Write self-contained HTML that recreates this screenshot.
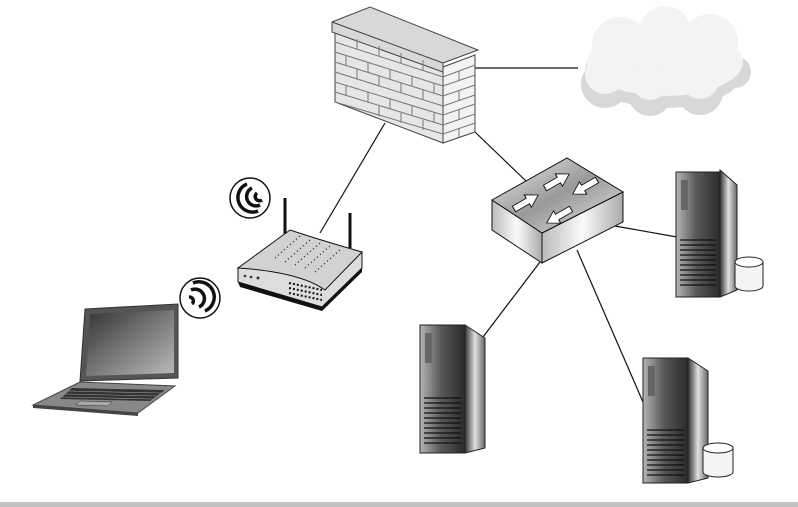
<!DOCTYPE html>
<html><head><meta charset="utf-8"><style>html,body{margin:0;padding:0;background:#fff}svg{display:block}</style></head>
<body>
<svg width="798" height="507" viewBox="0 0 798 507" xmlns="http://www.w3.org/2000/svg">
<defs>
<linearGradient id="srv" x1="0" x2="1"><stop offset="0" stop-color="#b5b5b5"/><stop offset="0.45" stop-color="#5a5a5a"/><stop offset="1" stop-color="#2a2a2a"/></linearGradient>
<linearGradient id="srvs" x1="0" x2="1"><stop offset="0" stop-color="#333"/><stop offset="0.5" stop-color="#e0e0e0"/><stop offset="1" stop-color="#666"/></linearGradient>
<linearGradient id="scr" x1="0" y1="0" x2="1" y2="1"><stop offset="0" stop-color="#333"/><stop offset="1" stop-color="#bbb"/></linearGradient>
<linearGradient id="sw" x1="0" y1="0" x2="1" y2="1"><stop offset="0" stop-color="#eee"/><stop offset="0.5" stop-color="#999"/><stop offset="1" stop-color="#e5e5e5"/></linearGradient>
<linearGradient id="sws" x1="0" x2="1"><stop offset="0" stop-color="#bbb"/><stop offset="0.5" stop-color="#fafafa"/><stop offset="1" stop-color="#aaa"/></linearGradient>
</defs>
<g stroke="#111" stroke-width="1.2" fill="none">
<line x1="475" y1="68" x2="578" y2="68"/>
<line x1="385" y1="123" x2="320" y2="233"/>
<line x1="475" y1="132" x2="526" y2="181"/>
<line x1="615" y1="226" x2="677" y2="237"/>
<line x1="540" y1="262" x2="483" y2="337"/>
<line x1="577" y1="250" x2="643" y2="402"/>
</g>
<!-- cloud -->
<g fill="#d8d8d8">
<ellipse cx="665" cy="70" rx="80" ry="38"/>
<circle cx="605" cy="84" r="24"/><circle cx="650" cy="94" r="22"/><circle cx="700" cy="92" r="23"/><circle cx="735" cy="72" r="16"/>
</g>
<g fill="#f3f3f3">
<ellipse cx="665" cy="62" rx="78" ry="34"/>
<circle cx="620" cy="45" r="28"/><circle cx="665" cy="32" r="26"/><circle cx="710" cy="42" r="28"/>
<circle cx="605" cy="74" r="20"/><circle cx="650" cy="82" r="18"/><circle cx="700" cy="80" r="19"/>
</g>
<!-- firewall -->
<polygon points="335,32 443,67 443,143 335,102" fill="#e6e6e6" stroke="#444"/>
<polygon points="443,67 475,55 475,132 443,143" fill="#f3f3f3" stroke="#444"/>
<polygon points="332,22 370,7 478,50 443,63 443,72 332,32" fill="#d8d8d8" stroke="#444"/>
<line x1="332" y1="22" x2="443" y2="63" stroke="#444"/>
<g stroke="#777" stroke-width="1">
<line x1="335" y1="42" x2="443" y2="77"/><line x1="335" y1="52" x2="443" y2="86"/><line x1="335" y1="62" x2="443" y2="96"/><line x1="335" y1="72" x2="443" y2="106"/><line x1="335" y1="82" x2="443" y2="115"/><line x1="335" y1="92" x2="443" y2="125"/><line x1="335" y1="102" x2="443" y2="134"/>
<line x1="443" y1="77" x2="475" y2="65"/><line x1="443" y1="86" x2="475" y2="75"/><line x1="443" y1="96" x2="475" y2="85"/><line x1="443" y1="106" x2="475" y2="95"/><line x1="443" y1="115" x2="475" y2="104"/><line x1="443" y1="125" x2="475" y2="114"/><line x1="443" y1="134" x2="475" y2="123"/>
<line x1="357" y1="39" x2="357" y2="49"/><line x1="379" y1="46" x2="379" y2="56"/><line x1="401" y1="53" x2="401" y2="63"/><line x1="423" y1="60" x2="423" y2="70"/>
<line x1="346" y1="55" x2="346" y2="65"/><line x1="368" y1="62" x2="368" y2="72"/><line x1="390" y1="69" x2="390" y2="79"/><line x1="412" y1="76" x2="412" y2="86"/><line x1="434" y1="83" x2="434" y2="93"/>
<line x1="357" y1="69" x2="357" y2="79"/><line x1="379" y1="76" x2="379" y2="86"/><line x1="401" y1="83" x2="401" y2="93"/><line x1="423" y1="90" x2="423" y2="100"/>
<line x1="346" y1="85" x2="346" y2="95"/><line x1="368" y1="92" x2="368" y2="102"/><line x1="390" y1="99" x2="390" y2="109"/><line x1="412" y1="106" x2="412" y2="116"/><line x1="434" y1="113" x2="434" y2="123"/>
<line x1="379" y1="106" x2="379" y2="116"/><line x1="401" y1="113" x2="401" y2="123"/><line x1="423" y1="120" x2="423" y2="130"/>
<line x1="459" y1="71" x2="459" y2="81"/><line x1="459" y1="90" x2="459" y2="100"/><line x1="459" y1="109" x2="459" y2="119"/><line x1="459" y1="128" x2="459" y2="137"/>
</g>
<!-- switch -->
<polygon points="492,200 542,233 542,263 492,230" fill="url(#sws)" stroke="#111"/>
<polygon points="542,233 623,192 623,222 542,263" fill="url(#sws)" stroke="#111"/>
<polygon points="492,200 567,158 623,192 542,233" fill="url(#sw)" stroke="#111"/>
<g fill="#fff" stroke="#111" stroke-width="1">
<polygon transform="translate(545,188) rotate(-30) scale(1,0.8)" points="0,-4 16,-4 16,-9 28,0 16,9 16,4 0,4"/>
<polygon transform="translate(514,209) rotate(-30) scale(1,0.8)" points="0,-4 16,-4 16,-9 28,0 16,9 16,4 0,4"/>
<polygon transform="translate(597,180) rotate(150) scale(1,0.8)" points="0,-4 16,-4 16,-9 28,0 16,9 16,4 0,4"/>
<polygon transform="translate(571,209) rotate(150) scale(1,0.8)" points="0,-4 16,-4 16,-9 28,0 16,9 16,4 0,4"/>
</g>
<!-- servers -->
<g>
<polygon points="720,170 737,185 737,290 720,297" fill="url(#srvs)" stroke="#222"/>
<rect x="676" y="172" width="44" height="125" fill="url(#srv)" stroke="#222"/>
<rect x="681" y="180" width="7" height="30" fill="#666"/>
<g stroke="#111" stroke-width="1.2"><line x1="680" y1="240" x2="716" y2="240"/><line x1="680" y1="245" x2="716" y2="245"/><line x1="680" y1="250" x2="716" y2="250"/><line x1="680" y1="255" x2="716" y2="255"/><line x1="680" y1="260" x2="716" y2="260"/><line x1="680" y1="265" x2="716" y2="265"/><line x1="680" y1="270" x2="716" y2="270"/><line x1="680" y1="275" x2="716" y2="275"/><line x1="680" y1="280" x2="716" y2="280"/><line x1="680" y1="285" x2="716" y2="285"/></g>
<path d="M735 262 v24 a14 5 0 0 0 28 0 v-24" fill="#f4f4f4" stroke="#222"/>
<ellipse cx="749" cy="262" rx="14" ry="5" fill="#fff" stroke="#222"/>
</g>
<g>
<polygon points="465,325 485,338 485,448 465,453" fill="url(#srvs)" stroke="#222"/>
<rect x="420" y="325" width="45" height="128" fill="url(#srv)" stroke="#222"/>
<rect x="425" y="333" width="7" height="30" fill="#666"/>
<g stroke="#111" stroke-width="1.2"><line x1="424" y1="398" x2="461" y2="398"/><line x1="424" y1="403" x2="461" y2="403"/><line x1="424" y1="408" x2="461" y2="408"/><line x1="424" y1="413" x2="461" y2="413"/><line x1="424" y1="418" x2="461" y2="418"/><line x1="424" y1="423" x2="461" y2="423"/><line x1="424" y1="428" x2="461" y2="428"/><line x1="424" y1="433" x2="461" y2="433"/><line x1="424" y1="438" x2="461" y2="438"/><line x1="424" y1="443" x2="461" y2="443"/></g>
</g>
<g>
<polygon points="688,358 708,371 708,478 688,483" fill="url(#srvs)" stroke="#222"/>
<rect x="643" y="358" width="45" height="125" fill="url(#srv)" stroke="#222"/>
<rect x="648" y="366" width="7" height="30" fill="#666"/>
<g stroke="#111" stroke-width="1.2"><line x1="647" y1="430" x2="684" y2="430"/><line x1="647" y1="435" x2="684" y2="435"/><line x1="647" y1="440" x2="684" y2="440"/><line x1="647" y1="445" x2="684" y2="445"/><line x1="647" y1="450" x2="684" y2="450"/><line x1="647" y1="455" x2="684" y2="455"/><line x1="647" y1="460" x2="684" y2="460"/><line x1="647" y1="465" x2="684" y2="465"/><line x1="647" y1="470" x2="684" y2="470"/><line x1="647" y1="475" x2="684" y2="475"/></g>
<path d="M703 448 v24 a15 5 0 0 0 30 0 v-24" fill="#f4f4f4" stroke="#222"/>
<ellipse cx="718" cy="448" rx="15" ry="5" fill="#fff" stroke="#222"/>
</g>
<!-- router -->
<line x1="285" y1="198" x2="285" y2="234" stroke="#111" stroke-width="3"/>
<line x1="350" y1="213" x2="350" y2="248" stroke="#111" stroke-width="3"/>
<polygon points="238,268 238,282 322,307 362,268 362,252" fill="#ddd" stroke="#111"/>
<path d="M238 268 L290 230 Q320 240 362 252 L325 290 Q300 272 238 268Z" fill="#d2d2d2" stroke="#111"/>
<path d="M238 282 L322 307 L362 268 L362 272 L322 311 L240 287Z" fill="#111"/>
<g fill="#333"><circle cx="245" cy="276" r="1.3"/><circle cx="251" cy="277" r="1.3"/><circle cx="258" cy="278" r="1.5"/></g>
<g stroke="#111" stroke-width="2" stroke-dasharray="2 2"><line x1="289" y1="283" x2="322" y2="290"/><line x1="289" y1="288" x2="322" y2="295"/><line x1="289" y1="293" x2="322" y2="300"/></g>
<g stroke="#444" stroke-width="1.4" stroke-dasharray="1.2 2.8"><line x1="275" y1="258" x2="300" y2="236"/><line x1="285" y1="262" x2="310" y2="240"/><line x1="295" y1="265" x2="320" y2="243"/><line x1="305" y1="268" x2="330" y2="246"/><line x1="315" y1="272" x2="340" y2="250"/></g>
<!-- wifi icons -->
<circle cx="250" cy="198" r="20" fill="#fff" stroke="#111" stroke-width="1.5"/>
<g fill="none" stroke="#111" stroke-width="3.5">
<path d="M247 184 A14 14 0 0 0 258 211"/><path d="M252 188 A9 9 0 0 0 260 205"/><path d="M257 193 A4 4 0 0 0 262 200"/>
</g>
<circle cx="200" cy="298" r="20" fill="#fff" stroke="#111" stroke-width="1.5"/>
<g fill="none" stroke="#111" stroke-width="3.5">
<path d="M193 283 A15 15 0 0 1 205 311"/><path d="M191 290 A9 9 0 0 1 199 307"/><path d="M189 297 A4 4 0 0 1 192 304"/>
</g>
<!-- laptop -->
<polygon points="85,309 178,304 178,378 80,381" fill="#555" stroke="#333"/>
<polygon points="90,314 174,310 174,373 86,376" fill="url(#scr)"/>
<polygon points="80,382 175,386 138,413 33,405" fill="#888" stroke="#444"/>
<polygon points="72,388 165,390 150,401 60,399" fill="#333"/>
<g stroke="#999" stroke-width="0.6"><line x1="68" y1="391" x2="161" y2="393"/><line x1="65" y1="394" x2="157" y2="396"/><line x1="62" y1="397" x2="153" y2="399"/></g>
<polygon points="80,401 112,402 108,406 76,405" fill="#aaa" stroke="#333" stroke-width="0.5"/>
<polygon points="33,405 138,413 138,416 33,408" fill="#444"/>
<!-- bottom bar -->
<rect x="0" y="502" width="798" height="5" fill="#c0c0c0"/>
</svg>
</body></html>
